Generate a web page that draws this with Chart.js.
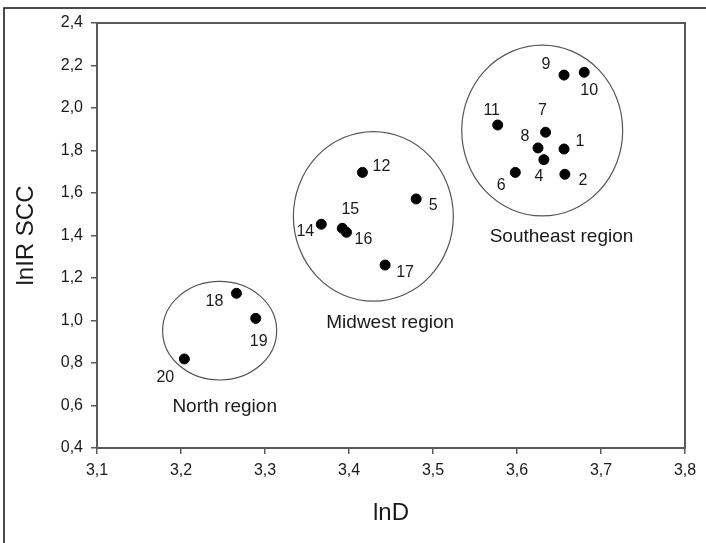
<!DOCTYPE html>
<html lang="en">
<head>
    <meta charset="UTF-8">
    <title>lnIR SCC vs lnD</title>
    <script src="https://cdn.jsdelivr.net/npm/chart.js@4.4.1/dist/chart.umd.min.js"></script>
    <style>
        body {
            margin: 0;
            background-color: white;
        }
        #chart {
            display: block;
        }
    </style>
</head>
<body>
    <canvas id="chart" width="706" height="543"></canvas>

    <script>
        // farm ids (3 and 13 are not in the plot)
        const ids = [1, 2, 4, 5, 6, 7, 8, 9, 10, 11, 12, 14, 15, 16, 17, 18, 19, 20];
        const lnD = [3.656, 3.657, 3.632, 3.480, 3.598, 3.634, 3.625, 3.656, 3.680, 3.577,
                     3.416, 3.367, 3.392, 3.397, 3.443, 3.266, 3.289, 3.204];
        const lnIRSCC = [1.807, 1.688, 1.757, 1.572, 1.697, 1.886, 1.812, 2.155, 2.168, 1.920,
                         1.697, 1.453, 1.434, 1.415, 1.261, 1.128, 1.010, 0.819];

        const xTicks = [3.1, 3.2, 3.3, 3.4, 3.5, 3.6, 3.7, 3.8];
        const yTicks = [0.4, 0.6, 0.8, 1.0, 1.2, 1.4, 1.6, 1.8, 2.0, 2.2, 2.4];

        // region ellipses (data units) and their captions
        const regionNames = ['Southeast region', 'Midwest region', 'North region'];
        const regionCenterX = [3.630, 3.429, 3.246];
        const regionCenterY = [1.894, 1.490, 0.952];
        const regionRadiusX = [0.0958, 0.0952, 0.0679];
        const regionRadiusY = [0.402, 0.399, 0.232];
        const regionLabelX = [3.653, 3.449, 3.252];
        const regionLabelY = [1.394, 0.987, 0.594];

        // where each number sits next to its dot, in pixels
        const labelOffsets = [
            [16, -7], [18, 6], [-5, 17], [17, 7], [-14, 13], [-3, -22], [-13, -11], [-18, -10], [5, 18],
            [-6, -14], [19, -6], [-16, 7], [8, -19], [17, 7], [20, 8], [-22, 8], [3, 23], [-19, 19]
        ];

        const fmt = v => v.toFixed(1).replace('.', ',');
        const textColor = '#1a1a1a';
        const lineColor = '#5a5a5a';

        const annotations = {
            id: 'annotations',
            beforeDraw(chart) {
                const ctx = chart.ctx;
                ctx.save();
                ctx.fillStyle = 'white';
                ctx.fillRect(0, 0, chart.width, chart.height);
                // outer frame (top and left only are visible)
                ctx.strokeStyle = '#111';
                ctx.lineWidth = 1.5;
                ctx.beginPath();
                ctx.moveTo(4, chart.height);
                ctx.lineTo(4, 8);
                ctx.lineTo(chart.width, 8);
                ctx.stroke();
                ctx.restore();
            },
            afterDatasetsDraw(chart) {
                const ctx = chart.ctx;
                const xs = chart.scales.x;
                const ys = chart.scales.y;
                const area = chart.chartArea;
                ctx.save();

                // plot box
                ctx.strokeStyle = lineColor;
                ctx.lineWidth = 2;
                ctx.strokeRect(area.left, area.top, area.right - area.left, area.bottom - area.top);

                // ellipses
                ctx.strokeStyle = '#555';
                ctx.lineWidth = 1.2;
                regionNames.forEach((name, i) => {
                    const cx = xs.getPixelForValue(regionCenterX[i]);
                    const cy = ys.getPixelForValue(regionCenterY[i]);
                    const rx = xs.getPixelForValue(regionCenterX[i] + regionRadiusX[i]) - cx;
                    const ry = cy - ys.getPixelForValue(regionCenterY[i] + regionRadiusY[i]);
                    ctx.beginPath();
                    ctx.ellipse(cx, cy, rx, ry, 0, 0, Math.PI * 2);
                    ctx.stroke();
                });

                ctx.fillStyle = textColor;
                ctx.textAlign = 'center';
                ctx.textBaseline = 'middle';

                ctx.font = '19px "Liberation Sans", Arial, sans-serif';
                regionNames.forEach((name, i) => {
                    ctx.fillText(name, xs.getPixelForValue(regionLabelX[i]), ys.getPixelForValue(regionLabelY[i]));
                });

                ctx.font = '16px "Liberation Sans", Arial, sans-serif';
                ids.forEach((id, i) => {
                    const px = xs.getPixelForValue(lnD[i]) + labelOffsets[i][0];
                    const py = ys.getPixelForValue(lnIRSCC[i]) + labelOffsets[i][1];
                    ctx.fillText(String(id), px, py);
                });
                ctx.restore();
            }
        };

        const tickFont = {family: '"Liberation Sans", Arial, sans-serif', size: 16};
        const titleFont = {family: '"Liberation Sans", Arial, sans-serif', size: 24};

        new Chart(document.getElementById('chart'), {
            type: 'scatter',
            data: {
                datasets: [{
                    label: 'farms',
                    data: ids.map((id, i) => ({x: lnD[i], y: lnIRSCC[i]})),
                    backgroundColor: '#000',
                    borderColor: '#000',
                    pointRadius: 5,
                    pointHoverRadius: 5
                }]
            },
            options: {
                responsive: false,
                devicePixelRatio: 1,
                animation: false,
                layout: {
                    padding: {left: 0, right: 21, top: 23, bottom: 0}
                },
                plugins: {
                    legend: {display: false},
                    tooltip: {enabled: false}
                },
                scales: {
                    x: {
                        type: 'linear',
                        min: 3.1,
                        max: 3.8,
                        afterBuildTicks: s => { s.ticks = xTicks.map(v => ({value: v})); },
                        afterFit: s => { s.height = 95; },
                        border: {display: false},
                        grid: {drawOnChartArea: false, drawTicks: true, tickLength: 6, color: lineColor, lineWidth: 1.5},
                        ticks: {
                            font: tickFont,
                            color: textColor,
                            padding: 7,
                            maxRotation: 0,
                            callback: v => fmt(v)
                        },
                        title: {
                            display: true,
                            text: 'lnD',
                            font: titleFont,
                            color: textColor,
                            padding: {top: 0, bottom: 15}
                        }
                    },
                    y: {
                        type: 'linear',
                        min: 0.4,
                        max: 2.4,
                        afterBuildTicks: s => { s.ticks = yTicks.map(v => ({value: v})); },
                        afterFit: s => { s.width = 97; },
                        border: {display: false},
                        grid: {drawOnChartArea: false, drawTicks: true, tickLength: 6, color: lineColor, lineWidth: 1.5},
                        ticks: {
                            font: tickFont,
                            color: textColor,
                            padding: 8,
                            callback: v => fmt(v)
                        },
                        title: {
                            display: true,
                            text: 'lnIR SCC',
                            font: titleFont,
                            color: textColor,
                            padding: {top: 12, bottom: 0}
                        }
                    }
                }
            },
            plugins: [annotations]
        });
    </script>
</body>
</html>
